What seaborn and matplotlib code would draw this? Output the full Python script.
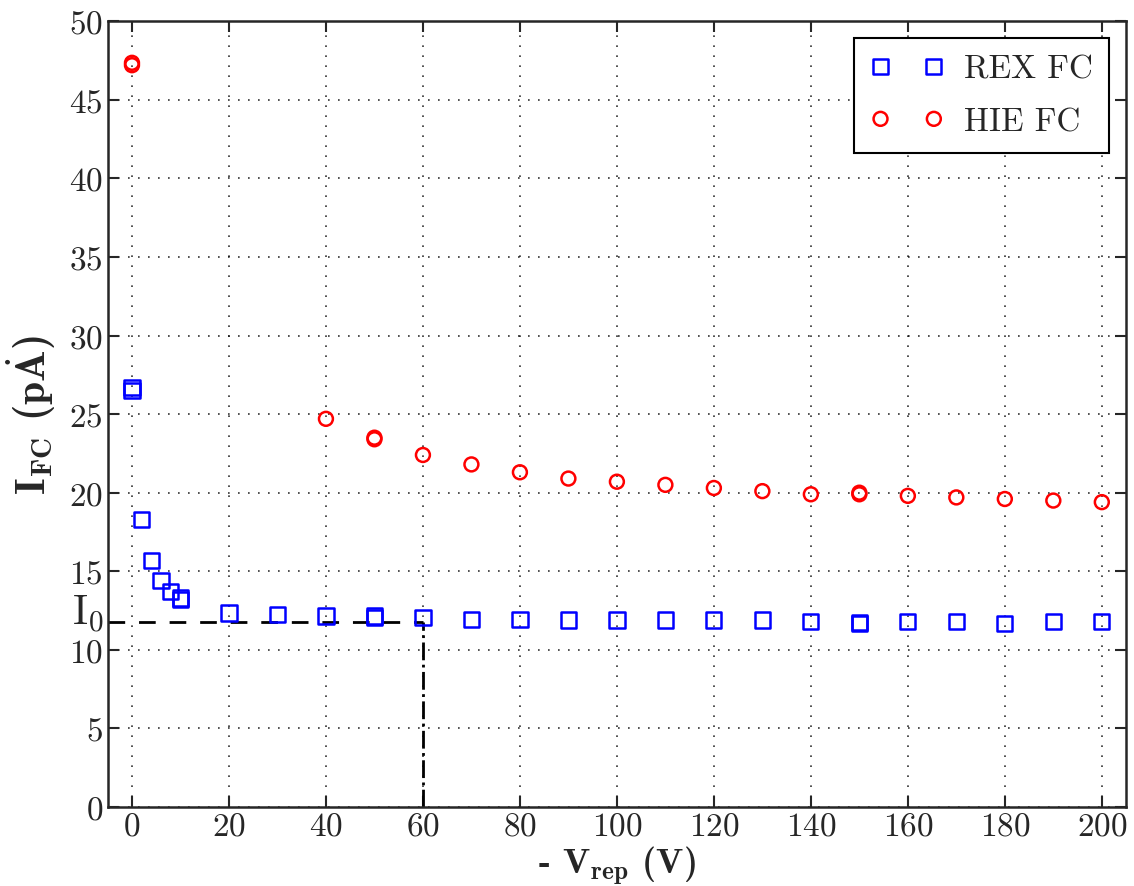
import numpy as np
import pandas as pd
import matplotlib
matplotlib.use('Agg')
import matplotlib.pyplot as plt
import seaborn as sns

# REX FC data
rex_v = [0, 0, 2, 4, 6, 8, 10, 10, 20, 30, 40, 50, 50, 60, 70, 80, 90, 100, 110,
         120, 130, 140, 150, 150, 160, 170, 180, 190, 200]
rex_i = [26.5, 26.7, 18.3, 15.7, 14.4, 13.7, 13.2, 13.3, 12.35, 12.25, 12.15, 12.05, 12.15,
         12.05, 11.95, 11.95, 11.9, 11.9, 11.9, 11.9, 11.9, 11.8, 11.7, 11.75, 11.8, 11.8,
         11.7, 11.8, 11.8]

# HIE FC data
hie_v = [0, 0, 40, 50, 50, 60, 70, 80, 90, 100, 110, 120, 130, 140, 150, 150, 160, 170,
         180, 190, 200]
hie_i = [47.2, 47.35, 24.7, 23.4, 23.5, 22.4, 21.8, 21.3, 20.9, 20.7, 20.5, 20.3, 20.1,
         19.9, 19.9, 20.0, 19.8, 19.7, 19.6, 19.5, 19.4]

i0 = 11.77
v_i0 = 60

rex = pd.DataFrame({'V': rex_v, 'I': rex_i})
hie = pd.DataFrame({'V': hie_v, 'I': hie_i})

sns.set_style('ticks')
plt.rcParams['font.family'] = ['cmr10', 'DejaVu Serif']
plt.rcParams['mathtext.fontset'] = 'cm'
plt.rcParams['axes.formatter.use_mathtext'] = True
plt.rcParams['axes.unicode_minus'] = False

fig = plt.figure(figsize=(11.34, 8.87), dpi=100)
ax = fig.add_axes([0.095, 0.089, 0.898, 0.886])

sns.scatterplot(data=rex, x='V', y='I', marker='s', s=120, facecolor='none',
                edgecolor='blue', linewidth=1.8, label='REX FC', ax=ax, zorder=3)
sns.scatterplot(data=hie, x='V', y='I', marker='o', s=100, facecolor='none',
                edgecolor='red', linewidth=1.8, label='HIE FC', ax=ax, zorder=3)

# I0 guide lines
ax.plot([-5, v_i0], [i0, i0], color='black', linestyle='--', linewidth=2, dashes=(6, 5))
ax.plot([v_i0, v_i0], [0, i0], color='black', linestyle='-.', linewidth=2)
ax.text(-0.003, 12.3, r'$\mathrm{I_0}$', transform=ax.get_yaxis_transform(),
        ha='right', va='center', fontsize=30)

ax.set_xlim(-5, 205)
ax.set_ylim(0, 50)
ax.set_xticks(np.arange(0, 201, 20))
ax.set_yticks(np.arange(0, 51, 5))
ax.grid(True, color='black', linestyle=(0, (1, 5)), linewidth=1.2, alpha=0.8)
ax.tick_params(direction='in', top=True, right=True, length=8, width=1.5, labelsize=24)
for sp in ax.spines.values():
    sp.set_linewidth(1.8)
    sp.set_visible(True)

ax.set_xlabel(r'- $\mathbf{V_{rep}}$ (V)', fontsize=26, fontfamily='cmb10', labelpad=2)
ax.set_ylabel(r'$\mathbf{I_{FC}}$ (p$\mathbf{\dot{A}}$)', fontsize=30, fontfamily='cmb10', labelpad=8)

leg = ax.legend(loc='upper right', scatterpoints=2, scatteryoffsets=[0.5], fontsize=24,
                frameon=True, fancybox=False, edgecolor='black', borderaxespad=0.5,
                handletextpad=0.6, handlelength=2.2, borderpad=0.5, labelspacing=0.7)
leg.get_frame().set_linewidth(1.5)
leg.get_frame().set_alpha(1)

fig.savefig('out.png', dpi=100)
